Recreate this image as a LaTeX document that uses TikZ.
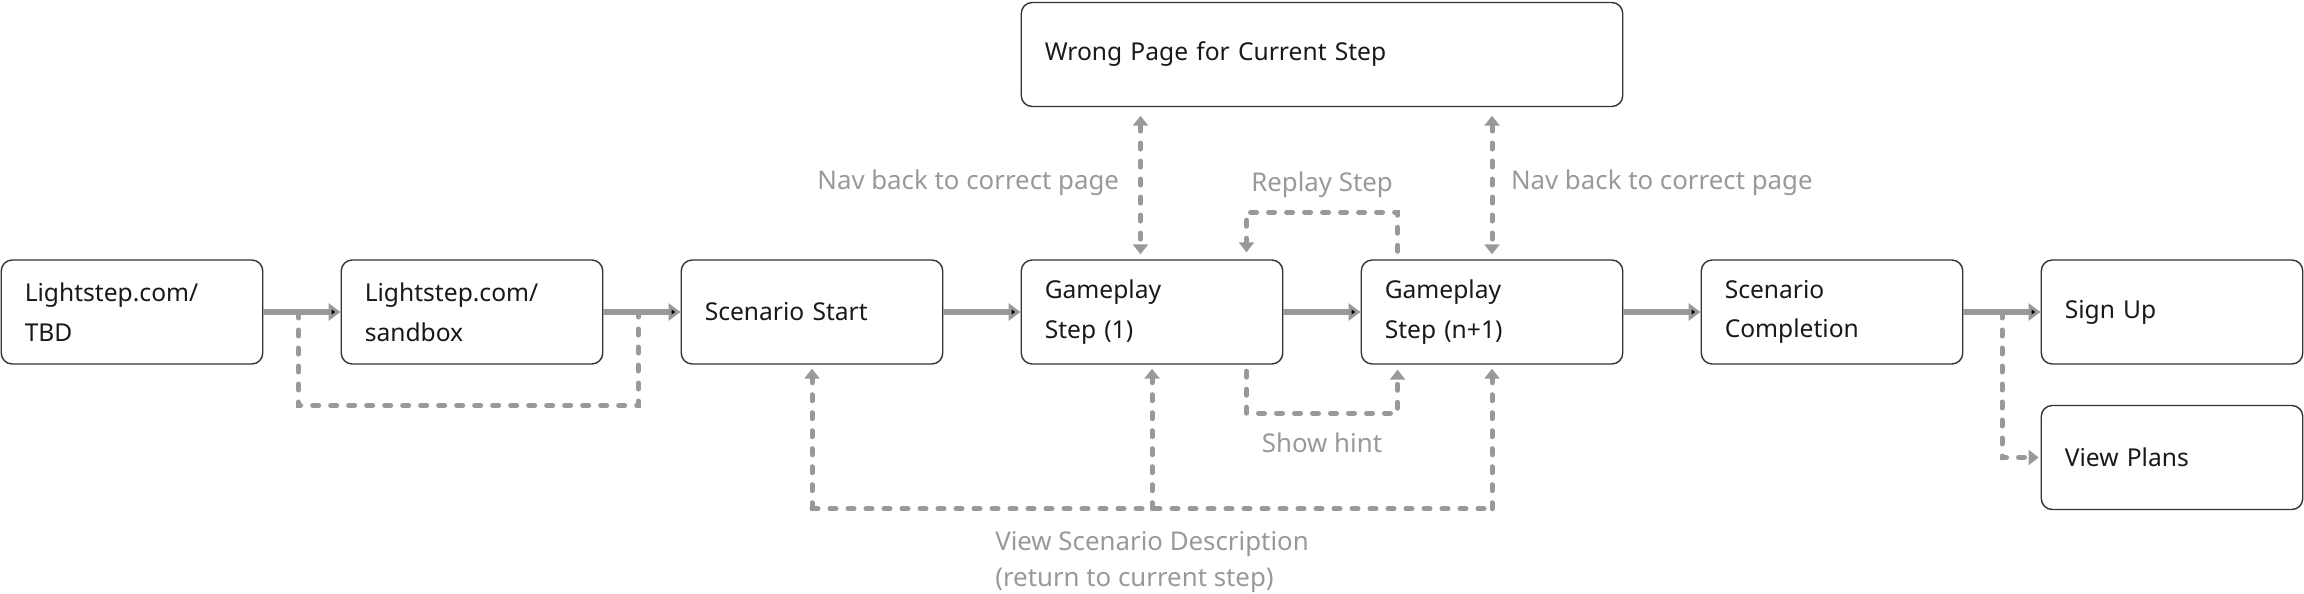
\documentclass[tikz,border=0pt]{standalone}
\usepackage{fontspec}
\setmainfont{Noto Sans}
\usetikzlibrary{positioning, arrows.meta, calc}
\definecolor{edgegray}{RGB}{153,153,153}
\definecolor{framegray}{RGB}{51,51,51}

\tikzset{
  screen/.style={draw=framegray, line width=0.8pt, rounded corners=0.22cm, text width=4.29cm, inner xsep=0.47cm, minimum height=2.08cm, align=left, text=black!90, font=\fontsize{14}{22.5}\selectfont},
  note/.style={text=edgegray, inner sep=0pt, font=\fontsize{14.7}{20.8}\selectfont},
  flow/.style={draw=edgegray, line width=0.12cm, -{Triangle[length=0.24cm, width=0.34cm]}},
  hop/.style={draw=edgegray, line width=0.1cm, line cap=round, dash pattern=on 0.12cm off 0.24cm},
  >={Triangle[length=0.2cm, width=0.3cm]}
}

\begin{document}
\begin{tikzpicture}[node distance=6.8cm, on grid]
  \useasboundingbox (0,0) rectangle (46.08,-11.86);
  \node[screen] (tbd) at (2.64,-6.24) {Lightstep.com/\\TBD};
  \node[screen] (sandbox) [right=of tbd] {Lightstep.com/\\sandbox};
  \node[screen] (start) [right=of sandbox] {Scenario Start};
  \node[screen] (step1) [right=of start] {Gameplay\\Step (1)};
  \node[screen] (stepn) [right=of step1] {Gameplay\\Step (n+1)};
  \node[screen] (done) [right=of stepn] {Scenario\\Completion};
  \node[screen] (signup) [right=of done] {Sign Up};
  \node[screen] (plans) [below=2.91cm of signup] {View Plans};
  \node[screen, text width=11.09cm] (wrong) at ($(step1)!0.5!(stepn)+(0,5.15)$) {Wrong Page for Current Step};

  \path[flow]
    (tbd) edge (sandbox)
    (sandbox) edge (start)
    (start) edge (step1)
    (step1) edge (stepn)
    (stepn) edge (done)
    (done) edge (signup);

  \draw[hop] ($(tbd.east)!0.45!(sandbox.west)$) -- ++(0,-1.87) -| ($(sandbox.east)!0.45!(start.west)$);

  \draw[hop, <->, shorten <=0.17cm, shorten >=0.1cm] ($(step1.north |- wrong.south)+(-0.23,0)$)
    -- node[note, anchor=east, xshift=-0.38cm] {Nav back to correct page} ($(step1.north)+(-0.23,0)$);
  \draw[hop, <->, shorten <=0.17cm, shorten >=0.1cm] (stepn.north |- wrong.south)
    -- node[note, anchor=west, xshift=0.33cm] {Nav back to correct page} (stepn.north);

  \draw[hop, ->, shorten >=0.14cm] ([xshift=0.74cm, yshift=0.16cm]stepn.north west) -- ++(0,0.78)
    -| node[note, pos=0.25, yshift=0.55cm] {Replay Step} ([xshift=-0.74cm]step1.north east);
  \draw[hop, ->, shorten >=0.1cm] ([xshift=-0.74cm, yshift=-0.13cm]step1.south east) -- ++(0,-0.84)
    -| node[note, pos=0.25, yshift=-0.6cm] {Show hint} ([xshift=0.74cm]stepn.south west);

  \coordinate (base) at ($(step1.south)+(0,-2.88)$);
  \draw[hop] (start.south |- base) -- (stepn.south |- base);
  \foreach \s in {start, step1, stepn}
    \draw[hop, ->, shorten >=0.08cm] (\s.south |- base) -- (\s.south);
  \node[note, align=left, anchor=north] (describe) at ($(base)+(0,-0.44)$) {View Scenario Description\\(return to current step)};

  \draw[hop, ->, shorten >=0.04cm] ($(done.east)!0.5!(signup.west)$) |- (plans.west);
\end{tikzpicture}
\end{document}
